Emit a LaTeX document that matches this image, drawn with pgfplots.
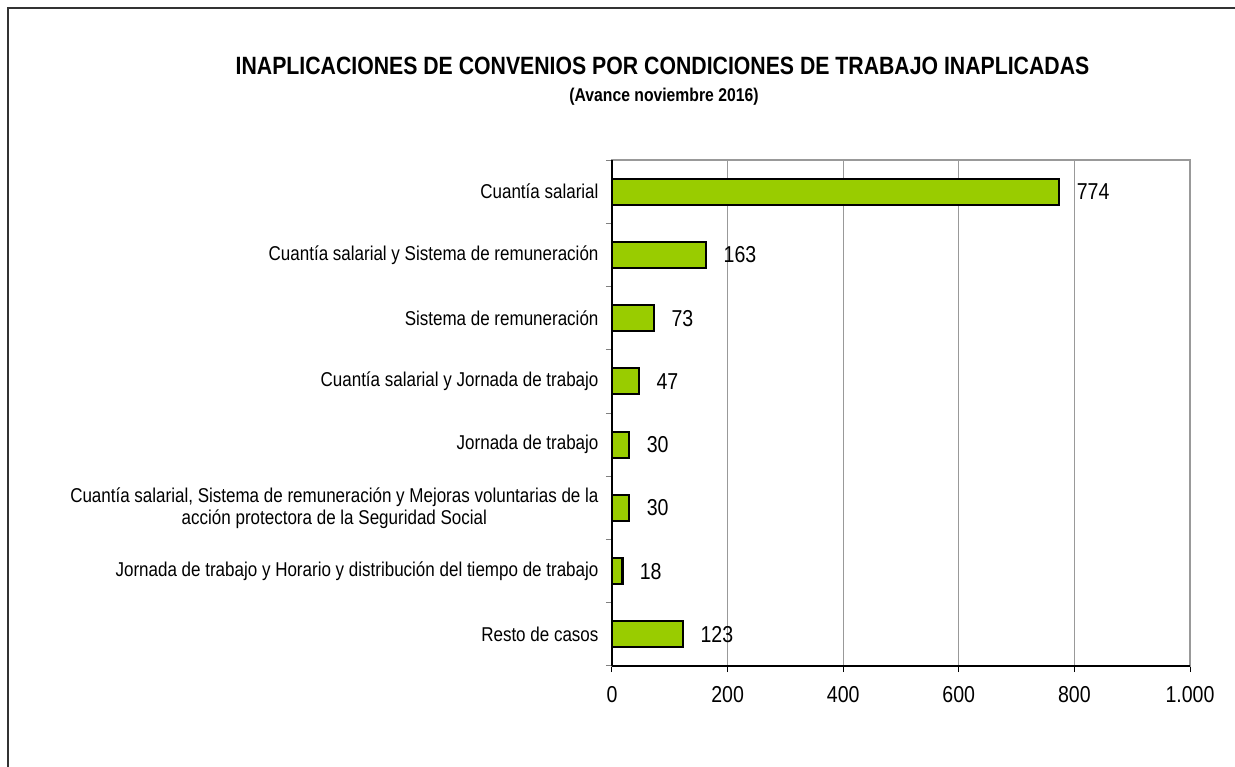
\documentclass[border=0pt]{standalone}
\usepackage{fontspec}
\setmainfont{Liberation Sans}[FakeStretch=0.85]
\usepackage{pgfplots}
\pgfplotsset{compat=1.18}
\definecolor{bargreen}{HTML}{99CC00}
\begin{document}
\begin{tikzpicture}[x=1pt,y=1pt]
\path[use as bounding box] (0,0) rectangle (1235,767);
\draw[line width=1.5pt, black!80] (8,0) -- (8,759) -- (1235,759);
\node[font=\bfseries\fontsize{25}{28}\selectfont] at (662.5,701) {INAPLICACIONES DE CONVENIOS POR CONDICIONES DE TRABAJO INAPLICADAS};
\node[font=\bfseries\fontsize{18.5}{21}\selectfont] at (664,670.5) {(Avance noviembre 2016)};
\begin{axis}[
  at={(612pt,101pt)}, anchor=south west,
  scale only axis, width=578pt, height=506pt,
  xmin=0, xmax=1000, ymin=-0.5, ymax=7.5,
  y dir=reverse,
  /pgf/number format/assume math mode=true,
  /pgf/number format/1000 sep={.},
  xtick={0,200,...,1000},
  ytick={0,...,7},
  yticklabels={Cuantía salarial, Cuantía salarial y Sistema de remuneración, Sistema de remuneración, Cuantía salarial y Jornada de trabajo, Jornada de trabajo, {Cuantía salarial, Sistema de remuneración y Mejoras voluntarias de la\\acción protectora de la Seguridad Social}, Jornada de trabajo y Horario y distribución del tiempo de trabajo, Resto de casos},
  minor ytick={-0.5,0.5,...,7.5},
  xtick pos=bottom, ytick pos=left,
  xtick align=outside, ytick align=outside,
  major tick length=6pt, minor tick length=6pt,
  ytick style={draw=none},
  minor y tick style={draw=gray, line width=1pt},
  xtick style={draw=black, line width=1pt},
  xmajorgrids, major grid style={gray!80, line width=1.2pt},
  axis line style={gray!80, line width=2pt},
  yticklabel style={font=\fontsize{20}{22}\selectfont, align=center, xshift=-4pt},
  xticklabel style={font=\fontsize{23}{25}\selectfont, yshift=-11pt},
  clip=false,
]
\addplot[xbar, fill=bargreen, draw=black, line width=2.2pt, bar width=26pt,
  point meta=x, nodes near coords,
  nodes near coords style={anchor=west, xshift=13pt, font=\fontsize{23}{25}\selectfont, text=black}]
  coordinates {(774,0) (163,1) (73,2) (47,3) (30,4) (30,5) (18,6) (123,7)};
\draw[black, line width=2pt] (axis description cs:0,0) -- (axis description cs:0,1);
\draw[black, line width=2pt] (axis description cs:0,0) -- (axis description cs:1,0);
\end{axis}
\end{tikzpicture}
\end{document}
